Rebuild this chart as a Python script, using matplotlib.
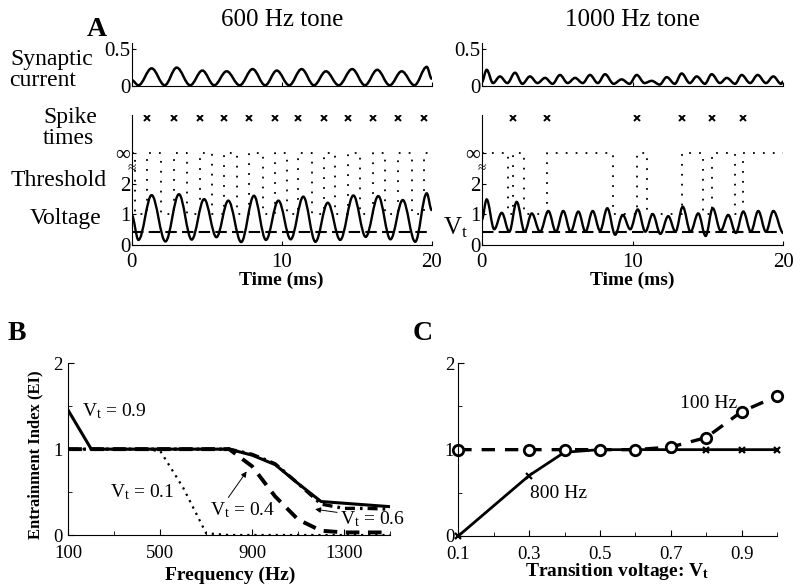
import matplotlib
matplotlib.use("Agg")
import matplotlib.pyplot as plt
from matplotlib.path import Path
from matplotlib.patches import PathPatch

plt.rcParams['font.family'] = ['Liberation Serif', 'DejaVu Serif']
plt.rcParams['mathtext.fontset'] = 'custom'
plt.rcParams['mathtext.rm'] = 'Liberation Serif'
plt.rcParams['mathtext.bf'] = 'Liberation Serif:bold'
plt.rcParams['mathtext.default'] = 'rm'

# ---- panel A data (time in ms) ----
# 600 Hz tone
syn600_t = [0, 0.45, 1.33, 2.2, 3.0, 3.9, 4.71, 5.5, 6.33, 7.2, 8.06, 8.9, 9.67,
            10.5, 11.33, 12.15, 12.95, 13.8, 14.7, 15.55, 16.37, 17.2, 18.0, 18.85, 19.67, 20]
syn600_v = [0.08, 0.01, 0.24, 0.01, 0.25, 0.01, 0.21, 0.01, 0.2, 0.01, 0.23, 0.01, 0.21,
            0.01, 0.23, 0.01, 0.2, 0.01, 0.23, 0.01, 0.22, 0.01, 0.2, 0.01, 0.26, 0.1]
vol600_t = [0, 0.45, 1.33, 2.25, 3.15, 4.0, 4.83, 5.65, 6.44, 7.3, 8.15, 8.95, 9.78,
            10.6, 11.44, 12.25, 13.07, 13.9, 14.78, 15.6, 16.44, 17.25, 18.07, 18.9, 19.67, 20]
vol600_v = [0.97, 0.15, 1.62, 0.1, 1.65, 0.16, 1.49, 0.24, 1.44, 0.08, 1.6, 0.15, 1.44,
            0.17, 1.57, 0.09, 1.37, 0.15, 1.61, 0.25, 1.59, 0.17, 1.46, 0.09, 1.68, 1.13]
drops600 = [0.22, 1.95, 3.67, 5.38, 7.0, 8.78, 10.33, 12.0, 13.55, 15.22, 16.9, 18.67]
spikes600 = [1.05, 2.8, 4.55, 6.15, 7.85, 9.55, 11.1, 12.8, 14.45, 16.1, 17.75, 19.5]

# 1000 Hz tone
syn1000_t = [0, 0.33, 0.75, 1.21, 1.7, 2.21, 2.7, 3.2, 3.7, 4.2, 4.7, 5.19, 5.7, 6.19,
             6.7, 7.18, 7.7, 8.18, 8.75, 9.28, 9.8, 10.28, 10.8, 11.27, 11.8, 12.27, 12.8,
             13.26, 13.8, 14.26, 14.8, 15.25, 15.8, 16.25, 16.8, 17.24, 17.8, 18.3, 18.85,
             19.34, 19.85, 20]
syn1000_v = [0.05, 0.22, 0.04, 0.13, 0.04, 0.18, 0.03, 0.13, 0.04, 0.11, 0.03, 0.15, 0.04, 0.11,
             0.04, 0.15, 0.04, 0.16, 0.03, 0.09, 0.03, 0.15, 0.04, 0.07, 0.02, 0.12, 0.03,
             0.17, 0.04, 0.13, 0.03, 0.16, 0.04, 0.11, 0.03, 0.15, 0.04, 0.15, 0.04,
             0.13, 0.03, 0.06]
vol1000_t = [0, 0.33, 0.83, 1.33, 1.83, 2.32, 2.85, 3.32, 3.87, 4.42, 4.92, 5.41, 5.9, 6.41,
             6.88, 7.36, 7.85, 8.33, 8.85, 9.35, 9.85, 10.35, 10.85, 11.34, 11.85, 12.37,
             12.85, 13.33, 13.85, 14.36, 14.85, 15.32, 15.85, 16.35, 16.85, 17.35, 17.85,
             18.34, 18.85, 19.34, 20]
vol1000_v = [0.8, 1.48, 0.5, 1.04, 0.42, 1.4, 0.42, 1.02, 0.42, 1.1, 0.42, 1.1, 0.42, 1.08,
             0.42, 1.1, 0.45, 1.19, 0.32, 0.97, 0.5, 1.15, 0.42, 1.0, 0.35, 0.93,
             0.42, 1.24, 0.42, 1.02, 0.28, 1.19, 0.45, 0.97, 0.38, 1.08, 0.42,
             1.1, 0.42, 1.1, 0.38]
drops1000 = [1.74, 2.83, 8.73, 10.94, 14.7, 16.8]
spikes1000 = [2.1, 4.31, 10.28, 13.26, 15.25, 17.35]

VT = 0.4          # transition voltage shown in A
TH_LOW = 1.0      # finite threshold level
TH_INF = 3.0      # where "infinity" sits on the axis
SPIKE_ROW = 4.14

# ---- panel B data ----
freq = [100, 200, 300, 400, 500, 600, 700, 800, 900, 1000, 1100, 1200, 1300, 1400, 1500]
ei_vt09 = [1.45, 1.0, 1.0, 1.0, 1.0, 1.0, 1.0, 1.0, 0.93, 0.82, 0.6, 0.39, 0.37, 0.35, 0.33]
ei_vt06 = [1.0, 1.0, 1.0, 1.0, 1.0, 1.0, 1.0, 1.0, 0.94, 0.83, 0.6, 0.36, 0.31, 0.31, 0.3]
ei_vt04 = [1.0, 1.0, 1.0, 1.0, 1.0, 1.0, 1.0, 1.0, 0.8, 0.45, 0.18, 0.05, 0.03, 0.03, 0.03]
ei_vt01 = [1.0, 1.0, 1.0, 1.0, 0.98, 0.55, 0.02, 0.0, 0.0, 0.0, 0.0, 0.0, 0.0, 0.0, 0.0]

# ---- panel C data ----
vt = [0.1, 0.3, 0.4, 0.5, 0.6, 0.7, 0.8, 0.9, 1.0]
ei_800 = [0.0, 0.7, 0.97, 1.0, 1.0, 1.0, 1.0, 1.0, 1.0]
ei_100 = [1.0, 1.0, 1.0, 1.0, 1.0, 1.03, 1.14, 1.44, 1.62]

W, H = 800, 587
fig = plt.figure(figsize=(W / 100, H / 100), dpi=100)


def box(x0, y0, x1, y1):
    # pixel box (top-left origin) -> figure fraction rect
    return [x0 / W, 1 - y1 / H, (x1 - x0) / W, (y1 - y0) / H]


def smooth(ax, t, v, lw):
    # smooth trace through the extrema (bezier with flat tangents at each point)
    verts = [(t[0], v[0])]
    codes = [Path.MOVETO]
    for i in range(1, len(t)):
        dt = t[i] - t[i - 1]
        verts += [(t[i - 1] + 0.36 * dt, v[i - 1]), (t[i] - 0.36 * dt, v[i]), (t[i], v[i])]
        codes += [Path.CURVE4] * 3
    ax.add_patch(PathPatch(Path(verts, codes), fill=False, lw=lw, ec='black', capstyle='round'))


def clean(ax):
    for s in ['top', 'right']:
        ax.spines[s].set_visible(False)
    for s in ['left', 'bottom']:
        ax.spines[s].set_linewidth(0.8)


def panel_a(x0, x1, syn_t, syn_v, vol_t, vol_v, drops, spikes, title):
    ax_s = fig.add_axes(box(x0, 43, x1, 86))
    smooth(ax_s, syn_t, syn_v, 1.8)
    ax_s.set_xlim(0, 20)
    ax_s.set_ylim(0, 0.585)
    ax_s.set_yticks([0, 0.5])
    ax_s.set_yticklabels(['0', '0.5'])
    ax_s.set_xticks([0, 10, 20])
    ax_s.set_xticklabels([])
    ax_s.tick_params(direction='in', length=3, labelsize=15, pad=1)
    clean(ax_s)

    ax = fig.add_axes(box(x0, 115, x1, 244.5))
    smooth(ax, vol_t, vol_v, 1.7)
    ax.axhline(VT, color='black', lw=1.5, ls=(0, (5.5, 2.5)))
    # threshold: infinite until it drops, back to infinite at each spike
    th_t, th_v = [0], [TH_INF]
    for d, s in zip(drops, spikes):
        th_t += [d, d, s, s]
        th_v += [TH_INF, TH_LOW, TH_LOW, TH_INF]
    th_t.append(20)
    th_v.append(TH_INF)
    ax.plot(th_t, th_v, color='black', lw=1.3, ls=(0, (1, 4.5)))
    ax.plot(spikes, [SPIKE_ROW] * len(spikes), 'x', color='black', ms=5, mew=1.4)
    ax.set_xlim(0, 20)
    ax.set_ylim(0, 4.25)
    ax.set_xticks([0, 10, 20])
    ax.set_yticks([0, 1, 2, TH_INF])
    ax.set_yticklabels(['0', '1', '2', '∞'])
    ax.get_yticklabels()[-1].set_fontsize(21)
    ax.tick_params(direction='in', length=3, labelsize=15, pad=1)
    ax.tick_params(axis='x', pad=6)
    clean(ax)
    ax.text(0, 2.5, '≈', ha='center', va='center', fontsize=11, clip_on=False)

    xc = (x0 + x1) / 2
    fig.text(xc / W, 1 - 20 / H, title, ha='center', va='center', fontsize=18)
    fig.text(xc / W, 1 - 280 / H, 'Time (ms)', ha='center', va='center',
             fontsize=14, fontweight='bold')


panel_a(131.7, 431.7, syn600_t, syn600_v, vol600_t, vol600_v, drops600, spikes600, '600 Hz tone')
panel_a(481.7, 783.3, syn1000_t, syn1000_v, vol1000_t, vol1000_v, drops1000, spikes1000, '1000 Hz tone')

# row labels
fig.text(97 / W, 1 - 30 / H, 'A', ha='center', va='center', fontsize=20, fontweight='bold')
for txt, x, y in [('Synaptic', 52, 60), ('current', 43, 81), ('Spike', 70, 117), ('times', 68, 138),
                  ('Threshold', 59, 180), ('Voltage', 66, 218)]:
    fig.text(x / W, 1 - y / H, txt, ha='center', va='center', fontsize=17)
fig.text(443 / W, 1 - 228 / H, 'V$_t$', ha='left', va='center', fontsize=18)

# ---- panel B ----
axb = fig.add_axes(box(68.3, 363.3, 390, 535))
axb.plot(freq, ei_vt01, color='black', lw=1.6, ls=(0, (1, 2.2)))
axb.plot(freq, ei_vt04, color='black', lw=2.8, ls=(0, (3.5, 2.2)))
axb.plot(freq, ei_vt06, color='black', lw=2.4, ls=(0, (3, 1.5, 0.8, 1.5)))
axb.plot(freq, ei_vt09, color='black', lw=2.2)
axb.set_xlim(100, 1500)
axb.set_ylim(0, 2)
axb.set_xticks([100, 500, 900, 1300])
axb.set_xticks([300, 700, 1100, 1500], minor=True)
axb.set_yticks([0, 1, 2])
axb.set_yticks([0.5, 1.5], minor=True)
axb.tick_params(which='both', direction='in', labelsize=13.5)
axb.tick_params(which='major', length=4)
axb.tick_params(which='minor', length=3)
axb.tick_params(axis='x', pad=7)
axb.tick_params(axis='y', pad=4)
clean(axb)
axb.text(158, 1.44, 'V$_t$ = 0.9', ha='left', va='center', fontsize=14)
axb.text(281, 0.5, 'V$_t$ = 0.1', ha='left', va='center', fontsize=14)
axb.annotate('V$_t$ = 0.4', xy=(876, 0.74), xytext=(717, 0.29), ha='left', va='center', fontsize=14,
             arrowprops=dict(arrowstyle='-|>', color='black', lw=0.7, mutation_scale=8,
                             relpos=(0.25, 1.0), shrinkA=0, shrinkB=0))
axb.annotate('V$_t$ = 0.6', xy=(1174, 0.3), xytext=(1282, 0.19), ha='left', va='center', fontsize=14,
             annotation_clip=False,
             arrowprops=dict(arrowstyle='-|>', color='black', lw=0.7, mutation_scale=8,
                             relpos=(0.0, 0.8), shrinkA=0, shrinkB=0))
fig.text(230 / W, 1 - 575 / H, 'Frequency (Hz)', ha='center', va='center', fontsize=14, fontweight='bold')
fig.text(35 / W, 1 - 455 / H, 'Entrainment Index (EI)', ha='center', va='center', rotation=90,
         fontsize=12, fontweight='bold')
fig.text(17 / W, 1 - 333 / H, 'B', ha='center', va='center', fontsize=20, fontweight='bold')

# ---- panel C ----
axc = fig.add_axes(box(458.3, 363.3, 777, 536))
axc.plot(vt, ei_800, color='black', lw=2.0, marker='x', ms=5, mew=1.6)
axc.plot(vt, ei_100, color='black', lw=2.4, ls=(0, (4, 3)), marker='o', ms=7.5,
         mfc='white', mec='black', mew=2)
axc.set_xlim(0.1, 1.0)
axc.set_ylim(0, 2)
axc.set_xticks([0.1, 0.3, 0.5, 0.7, 0.9])
axc.set_xticks([0.2, 0.4, 0.6, 0.8, 1.0], minor=True)
axc.set_yticks([0, 1, 2])
axc.set_yticks([0.5, 1.5], minor=True)
axc.tick_params(which='both', direction='in', labelsize=13.5)
axc.tick_params(which='major', length=4)
axc.tick_params(which='minor', length=3)
axc.tick_params(axis='x', pad=7)
axc.tick_params(axis='y', pad=3)
for m in axc.lines:
    m.set_clip_on(False)
clean(axc)
axc.text(0.726, 1.54, '100 Hz', ha='left', va='center', fontsize=14)
axc.text(0.302, 0.49, '800 Hz', ha='left', va='center', fontsize=14)
fig.text(617 / W, 1 - 572 / H, r'Transition voltage: $\mathbf{V_t}$', ha='center', va='center',
         fontsize=14, fontweight='bold')
fig.text(423 / W, 1 - 333 / H, 'C', ha='center', va='center', fontsize=20, fontweight='bold')

fig.savefig('out.png', dpi=100)
